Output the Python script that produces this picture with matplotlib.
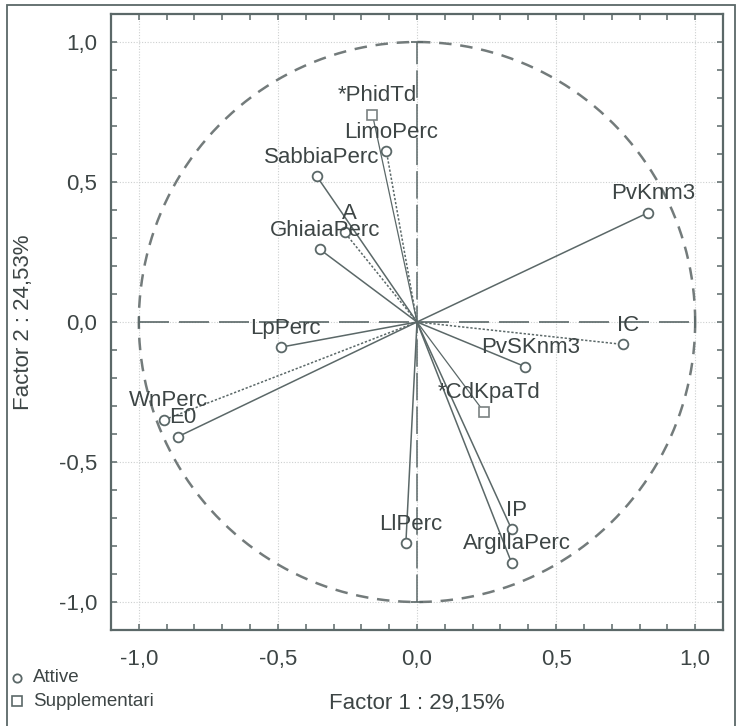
import matplotlib
matplotlib.use("Agg")
import matplotlib.pyplot as plt
import numpy as np
from matplotlib.lines import Line2D
from matplotlib.patches import Rectangle
from matplotlib.ticker import FuncFormatter, MultipleLocator

plt.rcParams["font.family"] = ["Liberation Sans", "DejaVu Sans"]

# ---------- loadings on the first two factors ----------

active_names = [
    "PvKnm3", "IC", "PvSKnm3", "IP", "ArgillaPerc", "LlPerc", "WnPerc",
    "E0", "LpPerc", "GhiaiaPerc", "A", "SabbiaPerc", "LimoPerc",
]
active_f1 = [0.83, 0.74, 0.39, 0.34, 0.34, -0.04, -0.91, -0.86, -0.49, -0.35, -0.26, -0.36, -0.11]
active_f2 = [0.39, -0.08, -0.16, -0.74, -0.86, -0.79, -0.35, -0.41, -0.09, 0.26, 0.32, 0.52, 0.61]

supp_names = ["*PhidTd", "*CdKpaTd"]
supp_f1 = [-0.16, 0.24]
supp_f2 = [0.74, -0.32]

x_title = "Factor 1 : 29,15%"
y_title = "Factor 2 : 24,53%"
legend_labels = ["Attive", "Supplementari"]

# vectors drawn dotted instead of solid
dotted = {"IC", "WnPerc", "LimoPerc", "A"}

INK = "#5b6868"
TEXT = "#3d4545"

W, H = 740, 726
fig = plt.figure(figsize=(W / 100, H / 100), dpi=100)
ax = fig.add_axes([111 / W, 1 - 630 / H, 612 / W, 616 / H])

ax.set_xlim(-1.1, 1.1)
ax.set_ylim(-1.1, 1.1)

# unit circle
t = np.linspace(0, 2 * np.pi, 400)
ax.plot(np.cos(t), np.sin(t), color="#737b7b", lw=1.8, ls=(0, (5, 3.5)), zorder=2)

# origin cross with end bars
ax.plot([-1, 1], [0, 0], color=INK, lw=1.2, ls=(0, (18, 6)), zorder=2)
ax.plot([0, 0], [-1, 1], color=INK, lw=1.1, ls=(0, (18, 4)), zorder=2)
ax.plot([-1, 1], [0, 0], ls="none", marker="|", ms=9, mew=1.2, color=INK, zorder=2)
ax.plot([0, 0], [-1, 1], ls="none", marker="_", ms=9, mew=1.2, color=INK, zorder=2)

# vectors from the origin
for name, x, y in zip(active_names, active_f1, active_f2):
    ls = (0, (1.5, 1.2)) if name in dotted else "-"
    ax.plot([0, x], [0, y], color=INK, lw=1.1, ls=ls, zorder=3)
for x, y in zip(supp_f1, supp_f2):
    ax.plot([0, x], [0, y], color=INK, lw=0.9, zorder=3)

ax.plot(active_f1, active_f2, ls="none", marker="o", ms=7, mfc="white",
        mec=INK, mew=1.3, zorder=4)
ax.plot(supp_f1, supp_f2, ls="none", marker="s", ms=7.5, mfc="white",
        mec="#7a8282", mew=1.2, zorder=4)

for name, x, y in zip(active_names + supp_names, active_f1 + supp_f1, active_f2 + supp_f2):
    ax.annotate(name, (x, y), xytext=(5, 19), textcoords="offset pixels",
                ha="center", va="center", fontsize=16, color=TEXT, zorder=5)

# axes styling
ax.xaxis.set_major_locator(MultipleLocator(0.5))
ax.yaxis.set_major_locator(MultipleLocator(0.5))
ax.xaxis.set_minor_locator(MultipleLocator(0.1))
ax.yaxis.set_minor_locator(MultipleLocator(0.1))
fmt = FuncFormatter(lambda v, pos: f"{v:.1f}".replace(".", ",").replace("-0,0", "0,0"))
ax.xaxis.set_major_formatter(fmt)
ax.yaxis.set_major_formatter(fmt)
ax.tick_params(which="both", direction="in", top=True, right=True,
               length=4, width=1.1, color=INK, labelsize=16, labelcolor=TEXT)
ax.tick_params(axis="x", pad=14)
ax.tick_params(axis="y", pad=10)
ax.grid(True, which="major", color="#cdd0d0", lw=0.8, ls=(0, (1, 1.5)), zorder=0)
for spine in ax.spines.values():
    spine.set_linewidth(1.6)
    spine.set_color(INK)

ax.set_xlabel(x_title, fontsize=16, color=TEXT)
ax.set_ylabel(y_title, fontsize=16, color=TEXT)
ax.xaxis.set_label_coords(0.5, -(693 - 630) / 616)
ax.yaxis.set_label_coords(-(111 - 34) / 612, 0.5)

# legend in the lower-left corner
fig.add_artist(Line2D([17 / W], [1 - 678 / H], transform=fig.transFigure, ls="none",
                      marker="o", ms=6, mfc="white", mec=INK, mew=1.3))
fig.add_artist(Line2D([17 / W], [1 - 701 / H], transform=fig.transFigure, ls="none",
                      marker="s", ms=6.5, mfc="white", mec=INK, mew=1.2))
fig.text(33 / W, 1 - 678 / H, legend_labels[0], fontsize=13.5, color=TEXT, va="center")
fig.text(33 / W, 1 - 701 / H, legend_labels[1], fontsize=13.5, color=TEXT, va="center")

# outer frame
fig.add_artist(Rectangle((7 / W, -0.05), 728 / W, 1.05 - 5 / H, transform=fig.transFigure,
                         fill=False, ec=INK, lw=1.3))

fig.savefig("out.png", dpi=100)
